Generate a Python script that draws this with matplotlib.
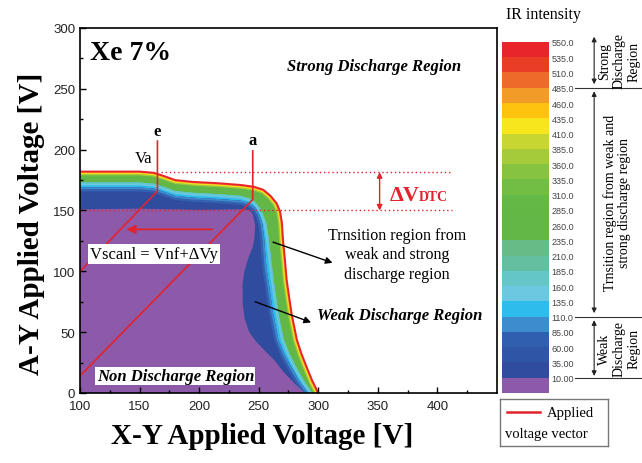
import numpy as np
import matplotlib
matplotlib.use('Agg')
import matplotlib.pyplot as plt
from matplotlib.colors import ListedColormap, BoundaryNorm
from matplotlib.cm import ScalarMappable

plt.rcParams['font.family'] = 'Liberation Sans'
SERIF = 'Liberation Serif'
RED = '#e3232c'

# IR intensity levels (colour bar boundaries) and colour of each band, bottom to top
levels = [-15, 10, 35, 60, 85, 110, 135, 160, 185, 210, 235, 260, 285,
          310, 335, 360, 385, 410, 435, 460, 485, 510, 535, 550]
band_colors = ['#8c5aa8', '#2f4c9e', '#2f55a6', '#2f5fae', '#3d8ccd', '#2dbcec',
               '#6cc8e0', '#64c6c7', '#63bfa0', '#67bb86', '#62b746', '#62b746',
               '#63b846', '#72be44', '#86c341', '#a6cb3a', '#c7d631', '#f6e61b',
               '#fec30f', '#f39b29', '#ee6a2a', '#ea3d26', '#e8252b']
tick_levels = levels[1:]

# contour edges (X-Y voltage, A-Y voltage), outer to inner
edge_550_x = [100, 150, 162, 170, 180, 195, 215, 235, 246, 254, 260, 265, 268,
              269.5, 270.5, 272, 273.5, 277.5, 282, 286, 290, 295, 300]
edge_550_y = [182, 182, 181, 178.5, 175, 173.5, 172.5, 171, 169.5, 167, 162, 156, 149,
              140, 125, 110, 93, 66, 44, 32, 22, 10, 0]
edge_235_x = [100, 150, 162, 170, 180, 195, 215, 235, 242, 247, 251, 254, 256.5,
              258, 259.5, 261, 262.5, 266.5, 271, 276, 281, 288, 295]
edge_235_y = [173, 173, 172, 169.5, 166, 164.5, 163.5, 162, 160, 157, 152, 146, 139,
              130, 118, 105, 93, 66, 44, 32, 22, 10, 0]
edge_110_x = [100, 150, 162, 170, 180, 195, 215, 235, 242, 247, 250.5, 253, 254.5,
              255.5, 256.5, 258, 262, 266.5, 271.5, 277, 284, 291.5]
edge_110_y = [169, 169, 168, 165.5, 162, 160.5, 159.5, 158, 156, 152.5, 147, 139, 128,
              115, 103, 93, 66, 44, 32, 22, 10, 0]
edge_10_x = [100, 150, 200, 235, 242, 245, 247, 246.5, 245, 241, 238, 236.5, 236.5,
             238, 242, 248, 256, 264, 271, 278, 284, 289]
edge_10_y = [151, 151.5, 150.5, 151, 150.5, 147, 138, 128, 120, 110, 100, 90, 75,
             62, 50, 42, 34, 26, 17, 10, 4, 0]

# applied voltage vectors e and a
vec_e_x = [100, 165, 165]
vec_e_y = [100, 166, 207]
vec_a_x = [100, 245, 245]
vec_a_y = [14, 159, 199]

# delta V_DTC window
dtc_top = 181.5
dtc_bottom = 150
dtc_top_x = [168, 412]
dtc_bottom_x = [100, 412]

fig = plt.figure(figsize=(6.42, 4.64), dpi=100)
ax = fig.add_axes([0.1246, 0.1509, 0.6495, 0.7866])
ax.set_xlim(100, 450)
ax.set_ylim(0, 300)


def region(ex, ey, color, z):
    poly = ax.fill(ex + [100], ey + [0], color=color, lw=0, zorder=z)[0]
    return poly


def rim(ex, ey, poly, strokes, z):
    # thin colour rims just inside an edge
    for i, (c, w) in enumerate(strokes):
        ln, = ax.plot(ex, ey, color=c, lw=w, zorder=z + 0.01 * i, solid_capstyle='butt')
        ln.set_clip_path(poly)


p550 = region(edge_550_x, edge_550_y, band_colors[11], 1)
rim(edge_550_x, edge_550_y, p550, [('#a6cb3a', 5.5), ('#f6e61b', 3.6), ('#f39b29', 2.2)], 1.1)
ax.plot(edge_550_x, edge_550_y, color=band_colors[-1], lw=1.4, zorder=1.2)

p235 = region(edge_235_x, edge_235_y, band_colors[5], 1.3)
rim(edge_235_x, edge_235_y, p235, [('#6cc8e0', 4), ('#64c6c7', 2)], 1.35)

p110 = region(edge_110_x, edge_110_y, band_colors[1], 1.5)
rim(edge_110_x, edge_110_y, p110, [('#3360b0', 6), ('#3d8ccd', 2.5)], 1.55)

region(edge_10_x, edge_10_y, band_colors[0], 1.7)

# applied voltage vectors
ax.plot(vec_e_x, vec_e_y, color=RED, lw=1.2, zorder=3)
ax.plot(vec_a_x, vec_a_y, color=RED, lw=1.2, zorder=3)
ax.text(vec_e_x[-1], vec_e_y[-1] + 2, 'e', family=SERIF, weight='bold', fontsize=12,
        ha='center', va='bottom')
ax.text(vec_a_x[-1], vec_a_y[-1] + 2, 'a', family=SERIF, weight='bold', fontsize=12,
        ha='center', va='bottom')
ax.text(153.5, 193, 'Va', family=SERIF, fontsize=12, ha='center', va='center')
ax.annotate('', xy=(139, 134.5), xytext=(211, 134.5),
            arrowprops=dict(arrowstyle='-|>', color=RED, lw=1.3, mutation_scale=13,
                            shrinkA=0, shrinkB=0), zorder=3)

# delta V_DTC
ax.plot(dtc_top_x, [dtc_top, dtc_top], color=RED, lw=1, ls=(0, (1, 2)), zorder=2.5)
ax.plot(dtc_bottom_x, [dtc_bottom, dtc_bottom], color=RED, lw=1, ls=(0, (1, 2)), zorder=2.5)
ax.annotate('', xy=(351.5, dtc_top), xytext=(351.5, dtc_bottom),
            arrowprops=dict(arrowstyle='<|-|>', color=RED, lw=1, mutation_scale=8,
                            shrinkA=0, shrinkB=0))
ax.text(360, 159, '\u0394V', color=RED, family=SERIF, weight='bold', fontsize=16,
        va='baseline')
ax.text(384, 159, 'DTC', color=RED, family=SERIF, weight='bold', fontsize=10,
        va='baseline')

# region labels
ax.text(108, 280, 'Xe 7%', family=SERIF, weight='bold', fontsize=20, va='center')
ax.text(347, 269, 'Strong Discharge Region', family=SERIF, weight='bold',
        style='italic', fontsize=12, ha='center', va='center')
ax.text(299, 64, 'Weak Discharge Region', family=SERIF, weight='bold',
        style='italic', fontsize=12, va='center')
ax.text(114, 14, 'Non Discharge Region', family=SERIF, weight='bold', style='italic',
        fontsize=12, va='center', zorder=4,
        bbox=dict(facecolor='white', edgecolor='none', pad=1))
ax.text(162, 114, 'Vscanl = Vnf+\u0394Vy', family=SERIF, fontsize=12, ha='center',
        va='center', zorder=4, bbox=dict(facecolor='white', edgecolor='none', pad=1.5))
ax.text(366, 114, 'Trnsition region from\nweak and strong\ndischarge region',
        family=SERIF, fontsize=11.5, ha='center', va='center', linespacing=1.3)
ax.annotate('', xy=(312, 107), xytext=(262, 124),
            arrowprops=dict(arrowstyle='-|>', color='black', lw=1, mutation_scale=10,
                            shrinkA=0, shrinkB=0), zorder=3)
ax.annotate('', xy=(294, 58), xytext=(247, 75),
            arrowprops=dict(arrowstyle='-|>', color='black', lw=1, mutation_scale=10,
                            shrinkA=0, shrinkB=0), zorder=3)

# axes styling
ax.set_xticks([100, 150, 200, 250, 300, 350, 400])
ax.set_xticks(np.arange(125, 450, 50), minor=True)
ax.set_yticks(np.arange(0, 301, 50))
ax.set_yticks(np.arange(25, 300, 50), minor=True)
ax.tick_params(which='both', direction='in', width=1, labelsize=9.5, labelcolor='#222')
ax.tick_params(which='major', length=4.5)
ax.tick_params(which='minor', length=2.5)
ax.tick_params(axis='x', pad=5)
ax.set_axisbelow(False)
for s in ax.spines.values():
    s.set_linewidth(1.2)
    s.set_zorder(5)
ax.set_xlabel('X-Y Applied Voltage [V]', family=SERIF, weight='bold', fontsize=21)
ax.set_ylabel('A-Y Applied Voltage [V]', family=SERIF, weight='bold', fontsize=21)
ax.xaxis.set_label_coords(0.436, -0.08)
ax.yaxis.set_label_coords(-0.085, 0.466)

# colour bar
cax = fig.add_axes([0.782, 0.1509, 0.0732, 0.7565])
norm = BoundaryNorm(levels, len(band_colors))
sm = ScalarMappable(norm=norm, cmap=ListedColormap(band_colors))
cb = fig.colorbar(sm, cax=cax, spacing='uniform', ticks=tick_levels)
cb.outline.set_visible(False)
cb.minorticks_off()
cb.ax.set_yticklabels(['%.1f' % v if v >= 100 else '%.2f' % v for v in tick_levels])
cb.ax.tick_params(length=0, pad=2, labelsize=6.5, labelcolor='#444')
fig.text(0.846, 0.968, 'IR intensity', family=SERIF, fontsize=11.5, ha='center',
         va='center')


def frac(v):
    return levels.index(v) / (len(levels) - 1)


for v in [485, 110, 10]:
    cax.plot([1.55, 3.2], [frac(v), frac(v)], transform=cax.transAxes, color='#333',
             lw=0.8, clip_on=False)
brackets = [(1.015, frac(485) + 0.01, 'Strong\nDischarge\nRegion', 2.49),
            (frac(485) - 0.01, frac(110) + 0.01,
             'Trnsition region from weak and\nstrong discharge region', 2.45),
            (frac(110) - 0.01, frac(10) + 0.005, 'Weak\nDischarge\nRegion', 2.49)]
for top, bot, label, tx in brackets:
    cax.annotate('', xy=(1.96, top), xytext=(1.96, bot), xycoords='axes fraction',
                 textcoords='axes fraction',
                 arrowprops=dict(arrowstyle='<|-|>', color='#222', lw=0.8,
                                 mutation_scale=7, shrinkA=0, shrinkB=0))
    cax.text(tx, (top + bot) / 2, label, transform=cax.transAxes, family=SERIF,
             fontsize=10, rotation=90, ha='center', va='center', linespacing=1.15,
             clip_on=False)

# legend box
lax = fig.add_axes([0.779, 0.0366, 0.168, 0.101])
lax.set_xlim(0, 108)
lax.set_ylim(47, 0)
lax.set_xticks([])
lax.set_yticks([])
for s in lax.spines.values():
    s.set_color('#777')
    s.set_linewidth(1)
lax.plot([7, 40], [13, 13], color=RED, lw=1.8)
lax.text(47, 13, 'Applied', family=SERIF, fontsize=10.5, va='center')
lax.text(5, 34, 'voltage vector', family=SERIF, fontsize=10.5, va='center')

fig.savefig('out.png', dpi=100)
